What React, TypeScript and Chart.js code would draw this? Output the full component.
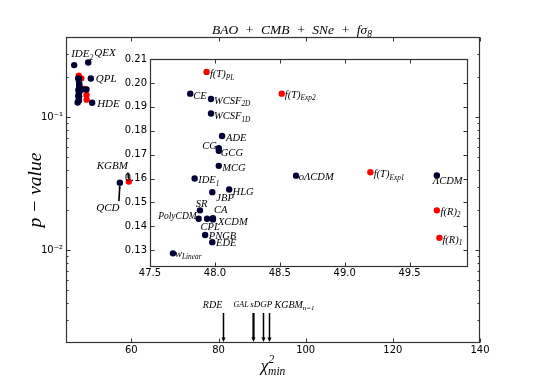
import React, { useEffect, useRef } from "react";
import { Chart, registerables } from "chart.js";
Chart.register(...registerables);

const SERIF = "'Liberation Serif', 'Times New Roman', serif";
const SANS = "'DejaVu Sans', sans-serif";
const BLACK = "#000033";
const RED = "#ff0000";
const FRAME = "#333333";

// Models shown in both panels: chi^2_min and p-value
const blackModels = ["CE", "WCSF_{2D}", "WCSF_{1D}", "ADE", "CG", "GCG", "MCG", "IDE_{1}", "oΛCDM", "HLG", "JBP", "SR", "PolyCDM", "CPL", "CA", "XCDM", "PNGB", "EDE", "w_{Linear}", "ΛCDM"];
const blackChi2 = [47.81, 47.97, 47.97, 48.055, 48.03, 48.03, 48.03, 47.844, 48.625, 48.11, 47.98, 47.885, 47.875, 47.94, 47.985, 47.985, 47.925, 47.98, 47.677, 49.71];
const blackP = [0.1955, 0.1933, 0.1872, 0.1778, 0.1727, 0.1716, 0.1653, 0.16, 0.1612, 0.1554, 0.1543, 0.1467, 0.1432, 0.1432, 0.1434, 0.1429, 0.1364, 0.1334, 0.1287, 0.1613];

const redModels = ["f(T)_{PL}", "f(T)_{Exp2}", "f(T)_{Exp1}", "f(R)_{2}", "f(R)_{1}"];
const redChi2 = [47.936, 48.515, 49.198, 49.71, 49.73];
const redP = [0.2046, 0.1955, 0.1626, 0.1467, 0.1352];

// Models only visible in the main panel
const extraBlackModels = ["IDE_{2}", "QEX", "QPL", "HDE", "QCD"];
const extraBlackChi2 = [46.88, 50.1, 50.7, 51.0, 57.36];
const extraBlackP = [0.246, 0.257, 0.195, 0.128, 0.0321];
const extraRedModels = ["KGBM"];
const extraRedChi2 = [59.42];
const extraRedP = [0.0327];

// Models whose p-value lies below the plotted range (arrows)
const lowModels = ["RDE", "GAL", "sDGP", "KGBM_{n=1}"];
const lowChi2 = [81.0, 87.9, 90.1, 91.5];

// Ticks
const mainXTicks = [60, 80, 100, 120, 140];
const mainYTicks = [0.01, 0.1];
const mainYTickLabels = ["10⁻²", "10⁻¹"];
const mainYMinorTicks = [0.003, 0.004, 0.005, 0.006, 0.007, 0.008, 0.009, 0.02, 0.03, 0.04, 0.05, 0.06, 0.07, 0.08, 0.09, 0.2, 0.3];
const insetXTicks = [47.5, 48.0, 48.5, 49.0, 49.5];
const insetYTicks = [0.13, 0.14, 0.15, 0.16, 0.17, 0.18, 0.19, 0.2, 0.21];

type Spec = { dx: number; dy: number; align: "left" | "right" | "center"; size: number };

const mainLabelSpec: Record<string, Spec> = {
  "IDE_{2}": { dx: -3, dy: -10.5, align: "left", size: 11 },
  QEX: { dx: 6, dy: -9.5, align: "left", size: 11 },
  QPL: { dx: 5, dy: 0.5, align: "left", size: 11 },
  HDE: { dx: 5, dy: 1.5, align: "left", size: 11 },
  QCD: { dx: -23.6, dy: 25, align: "left", size: 11 },
  KGBM: { dx: -1, dy: -15.6, align: "right", size: 11 },
};

const insetLabelSpec: Record<string, Spec> = {
  CE: { dx: 3, dy: 2.5, align: "left", size: 10.5 },
  "WCSF_{2D}": { dx: 3, dy: 2.3, align: "left", size: 10.5 },
  "WCSF_{1D}": { dx: 3, dy: 3, align: "left", size: 10.5 },
  ADE: { dx: 4, dy: 2.4, align: "left", size: 10.5 },
  CG: { dx: -2, dy: -1.5, align: "right", size: 10.5 },
  GCG: { dx: 2, dy: 2, align: "left", size: 10.5 },
  MCG: { dx: 3.4, dy: 2.4, align: "left", size: 10.5 },
  "IDE_{1}": { dx: 3.6, dy: 2, align: "left", size: 10.5 },
  "oΛCDM": { dx: 2.7, dy: 1.7, align: "left", size: 10.5 },
  HLG: { dx: 3.4, dy: 2.4, align: "left", size: 10.5 },
  JBP: { dx: 4, dy: 6, align: "left", size: 10.5 },
  SR: { dx: 1.5, dy: -6.6, align: "center", size: 10.5 },
  PolyCDM: { dx: -2, dy: -2, align: "right", size: 9.5 },
  CPL: { dx: 3, dy: 9, align: "center", size: 10.5 },
  CA: { dx: 1, dy: -8.3, align: "left", size: 10.5 },
  XCDM: { dx: 5, dy: 2.4, align: "left", size: 10.5 },
  PNGB: { dx: 3.7, dy: 1.3, align: "left", size: 10.5 },
  EDE: { dx: 3.7, dy: 1.4, align: "left", size: 10.5 },
  "w_{Linear}": { dx: 2, dy: 0.6, align: "left", size: 10.5 },
  "ΛCDM": { dx: -4, dy: 6, align: "left", size: 10.5 },
  "f(T)_{PL}": { dx: 3.3, dy: 2.6, align: "left", size: 10.5 },
  "f(T)_{Exp2}": { dx: 3, dy: 1.6, align: "left", size: 10.5 },
  "f(T)_{Exp1}": { dx: 3.3, dy: 2.3, align: "left", size: 10.5 },
  "f(R)_{2}": { dx: 3.7, dy: 1.7, align: "left", size: 10.5 },
  "f(R)_{1}": { dx: 3, dy: 2.3, align: "left", size: 10.5 },
};

const lowLabelSpec: Record<string, { dx: number; size: number; lw: number }> = {
  RDE: { dx: -20.7, size: 10, lw: 1.5 },
  GAL: { dx: -20, size: 8, lw: 2.2 },
  sDGP: { dx: -13.3, size: 9, lw: 1.5 },
  "KGBM_{n=1}": { dx: 5, size: 10, lw: 1.5 },
};

type Part = { t: string; k: 0 | 1 | 2 };
function parseRich(s: string): Part[] {
  const out: Part[] = [];
  let i = 0;
  let buf = "";
  while (i < s.length) {
    const c = s[i];
    if ((c === "_" || c === "^") && s[i + 1] === "{") {
      if (buf) { out.push({ t: buf, k: 0 }); buf = ""; }
      const end = s.indexOf("}", i);
      out.push({ t: s.slice(i + 2, end), k: c === "_" ? 1 : 2 });
      i = end + 1;
    } else { buf += c; i++; }
  }
  if (buf) out.push({ t: buf, k: 0 });
  return out;
}

function richWidth(ctx: CanvasRenderingContext2D, s: string, size: number) {
  let w = 0;
  for (const p of parseRich(s)) { ctx.font = `italic ${p.k === 0 ? size : size * 0.7}px ${SERIF}`; w += ctx.measureText(p.t).width; }
  return w;
}

function drawRich(ctx: CanvasRenderingContext2D, s: string, x: number, y: number, size: number, align: "left" | "right" | "center") {
  const parts = parseRich(s);
  const fontFor = (k: number) => `italic ${k === 0 ? size : size * 0.7}px ${SERIF}`;
  const w = richWidth(ctx, s, size);
  let cx = align === "left" ? x : align === "right" ? x - w : x - w / 2;
  ctx.textBaseline = "middle";
  ctx.textAlign = "left";
  ctx.fillStyle = "#000";
  for (const p of parts) {
    ctx.font = fontFor(p.k);
    const dy = p.k === 1 ? size * 0.3 : p.k === 2 ? -size * 0.4 : 0;
    ctx.fillText(p.t, cx, y + dy);
    cx += ctx.measureText(p.t).width;
  }
}

function drawArrow(ctx: CanvasRenderingContext2D, x1: number, y1: number, x2: number, y2: number, lw: number, head: number) {
  const ang = Math.atan2(y2 - y1, x2 - x1);
  ctx.strokeStyle = "#000";
  ctx.fillStyle = "#000";
  ctx.lineWidth = lw;
  ctx.beginPath();
  ctx.moveTo(x1, y1);
  ctx.lineTo(x2 - Math.cos(ang) * head * 0.8, y2 - Math.sin(ang) * head * 0.8);
  ctx.stroke();
  ctx.beginPath();
  ctx.moveTo(x2, y2);
  ctx.lineTo(x2 - Math.cos(ang) * head + Math.sin(ang) * head * 0.45, y2 - Math.sin(ang) * head - Math.cos(ang) * head * 0.45);
  ctx.lineTo(x2 - Math.cos(ang) * head - Math.sin(ang) * head * 0.45, y2 - Math.sin(ang) * head + Math.cos(ang) * head * 0.45);
  ctx.closePath();
  ctx.fill();
}

function drawFrameAndTicks(chart: any, xMajor: number[], xMinor: number[], yMajor: number[], yMinor: number[]) {
  const ctx: CanvasRenderingContext2D = chart.ctx;
  const a = chart.chartArea;
  const xs = chart.scales.x;
  const ys = chart.scales.y;
  const L = Math.round(a.left) + 0.5, R = Math.round(a.right) - 0.5, T = Math.round(a.top) + 0.5, B = Math.round(a.bottom) - 0.5;
  ctx.save();
  ctx.strokeStyle = FRAME;
  ctx.lineWidth = 1;
  ctx.beginPath();
  const seg = (x1: number, y1: number, x2: number, y2: number) => { ctx.moveTo(x1, y1); ctx.lineTo(x2, y2); };
  const xt = (vals: number[], len: number) => vals.forEach((v) => { const p = Math.round(xs.getPixelForValue(v)) + 0.5; seg(p, B, p, B - len); seg(p, T, p, T + len); });
  const yt = (vals: number[], len: number) => vals.forEach((v) => { const p = Math.round(ys.getPixelForValue(v)) + 0.5; seg(L, p, L + len, p); seg(R, p, R - len, p); });
  xt(xMajor, 4); xt(xMinor, 2); yt(yMajor, 4); yt(yMinor, 2);
  ctx.stroke();
  ctx.lineWidth = 1.2;
  ctx.strokeRect(L, T, R - L, B - T);
  ctx.restore();
}

const mainDecor = {
  id: "mainDecor",
  afterDraw(chart: any) {
    const ctx: CanvasRenderingContext2D = chart.ctx;
    const xs = chart.scales.x;
    const ys = chart.scales.y;
    const a = chart.chartArea;
    drawFrameAndTicks(chart, mainXTicks, [], mainYTicks, mainYMinorTicks);
    ctx.save();
    const lab = (names: string[], xv: number[], yv: number[]) => names.forEach((n, i) => {
      const s = mainLabelSpec[n];
      if (!s) return;
      const px = xs.getPixelForValue(xv[i]);
      const py = ys.getPixelForValue(yv[i]);
      drawRich(ctx, n, px + s.dx, py + s.dy, s.size, s.align);
      if (n === "KGBM") drawArrow(ctx, px - 1, py - 9, px, py - 2, 1.6, 3);
      if (n === "QCD") drawArrow(ctx, px - 1, py + 18.4, px, py + 2.5, 1.6, 3);
    });
    lab(extraBlackModels, extraBlackChi2, extraBlackP);
    lab(extraRedModels, extraRedChi2, extraRedP);
    lowModels.forEach((n, i) => {
      const s = lowLabelSpec[n];
      const px = Math.round(xs.getPixelForValue(lowChi2[i])) + 0.5;
      drawArrow(ctx, px, a.bottom - 30, px, a.bottom - 1, s.lw, 4.5);
      drawRich(ctx, n, px + s.dx, a.bottom - 38, s.size, "left");
    });
    // title
    const tokens = ["BAO", "+", "CMB", "+", "SNe", "+", "fσ_{8}"];
    const tsize = 13.5;
    const widths = tokens.map((t) => richWidth(ctx, t, tsize));
    const totalW = 160;
    const gap = (totalW - widths.reduce((s, v) => s + v, 0)) / (tokens.length - 1);
    let tx = 292 - totalW / 2;
    tokens.forEach((t, i) => { drawRich(ctx, t, tx, 30, tsize, "left"); tx += widths[i] + gap; });
    // y axis title
    ctx.save();
    ctx.translate(36, (a.top + a.bottom) / 2);
    ctx.rotate(-Math.PI / 2);
    drawRich(ctx, "p − value", 0, 0, 19.5, "center");
    ctx.restore();
    // x axis title chi^2_min
    const cx = (a.left + a.right) / 2;
    ctx.font = `italic 17px ${SERIF}`;
    const chiW = ctx.measureText("χ").width;
    ctx.font = `italic 11.5px ${SERIF}`;
    const minW = ctx.measureText("min").width;
    const x0 = cx - (chiW + minW) / 2;
    ctx.fillStyle = "#000";
    ctx.textBaseline = "middle";
    ctx.textAlign = "left";
    ctx.font = `italic 17px ${SERIF}`;
    ctx.fillText("χ", x0, 367);
    ctx.font = `italic 11.5px ${SERIF}`;
    ctx.fillText("2", x0 + chiW + 0.5, 360);
    ctx.fillText("min", x0 + chiW, 372);
    ctx.restore();
  },
};

const insetDecor = {
  id: "insetDecor",
  beforeDraw(chart: any) {
    const ctx: CanvasRenderingContext2D = chart.ctx;
    const a = chart.chartArea;
    ctx.save();
    ctx.fillStyle = "#fff";
    ctx.fillRect(a.left, a.top, a.right - a.left, a.bottom - a.top);
    ctx.restore();
  },
  afterDraw(chart: any) {
    const ctx: CanvasRenderingContext2D = chart.ctx;
    const xs = chart.scales.x;
    const ys = chart.scales.y;
    drawFrameAndTicks(chart, insetXTicks, [], insetYTicks, []);
    ctx.save();
    const lab = (names: string[], xv: number[], yv: number[]) => names.forEach((n, i) => {
      const s = insetLabelSpec[n];
      if (!s) return;
      drawRich(ctx, n, xs.getPixelForValue(xv[i]) + s.dx, ys.getPixelForValue(yv[i]) + s.dy, s.size, s.align);
    });
    lab(blackModels, blackChi2, blackP);
    lab(redModels, redChi2, redP);
    ctx.restore();
  },
};

const pts = (xv: number[], yv: number[]) => xv.map((x, i) => ({ x, y: yv[i] }));

export default function App() {
  const mainRef = useRef<HTMLCanvasElement>(null);
  const insetRef = useRef<HTMLCanvasElement>(null);

  useEffect(() => {
    const tickFont = { family: SANS, size: 10 };
    const main = new Chart(mainRef.current as HTMLCanvasElement, {
      type: "scatter",
      data: {
        datasets: [
          { data: [...pts(blackChi2, blackP), ...pts(extraBlackChi2, extraBlackP)], backgroundColor: BLACK, borderWidth: 0, pointRadius: 3.2 },
          { data: [...pts(redChi2, redP), ...pts(extraRedChi2, extraRedP)], backgroundColor: RED, borderWidth: 0, pointRadius: 3.2 },
        ],
      },
      options: {
        responsive: false,
        animation: false,
        devicePixelRatio: 1,
        events: [],
        layout: { padding: { left: 0, top: 37, right: 54, bottom: 0 } },
        plugins: { legend: { display: false }, tooltip: { enabled: false } },
        scales: {
          x: {
            type: "linear", min: 45, max: 140,
            grid: { display: false, drawTicks: false }, border: { display: false },
            ticks: { font: tickFont, color: "#000", padding: 1, maxRotation: 0, autoSkip: false },
            afterBuildTicks: (s: any) => { s.ticks = mainXTicks.map((v) => ({ value: v })); },
            afterFit: (s: any) => { s.height = 39; },
          },
          y: {
            type: "logarithmic", min: 0.002, max: 0.4,
            grid: { display: false, drawTicks: false }, border: { display: false },
            ticks: {
              font: tickFont, color: "#000", padding: 3, autoSkip: false,
              callback: (v: any) => { const i = mainYTicks.findIndex((t) => Math.abs(t - Number(v)) < 1e-9); return i >= 0 ? mainYTickLabels[i] : ""; },
            },
            afterBuildTicks: (s: any) => { s.ticks = mainYTicks.map((v) => ({ value: v })); },
            afterFit: (s: any) => { s.width = 66; },
          },
        },
      },
      plugins: [mainDecor],
    } as any);

    const inset = new Chart(insetRef.current as HTMLCanvasElement, {
      type: "scatter",
      data: {
        datasets: [
          { data: pts(blackChi2, blackP), backgroundColor: BLACK, borderWidth: 0, pointRadius: 3.2 },
          { data: pts(redChi2, redP), backgroundColor: RED, borderWidth: 0, pointRadius: 3.2 },
        ],
      },
      options: {
        responsive: false,
        animation: false,
        devicePixelRatio: 1,
        events: [],
        layout: { padding: { left: 0, top: 6, right: 2, bottom: 0 } },
        plugins: { legend: { display: false }, tooltip: { enabled: false } },
        scales: {
          x: {
            type: "linear", min: 47.5, max: 49.95,
            grid: { display: false, drawTicks: false }, border: { display: false },
            ticks: { font: tickFont, color: "#000", padding: 0, maxRotation: 0, autoSkip: false, callback: (v: any) => Number(v).toFixed(1) },
            afterBuildTicks: (s: any) => { s.ticks = insetXTicks.map((v) => ({ value: v })); },
            afterFit: (s: any) => { s.height = 18; },
          },
          y: {
            type: "linear", min: 0.123, max: 0.21,
            grid: { display: false, drawTicks: false }, border: { display: false },
            ticks: { font: tickFont, color: "#000", padding: 3, autoSkip: false, callback: (v: any) => Number(v).toFixed(2) },
            afterBuildTicks: (s: any) => { s.ticks = insetYTicks.map((v) => ({ value: v })); },
            afterFit: (s: any) => { s.width = 40; },
          },
        },
      },
      plugins: [insetDecor],
    } as any);

    return () => { main.destroy(); inset.destroy(); };
  }, []);

  return (
    <div style={{ position: "absolute", left: 0, top: 0, width: 534, height: 382, background: "#fff" }}>
      <canvas ref={mainRef} width={534} height={382} style={{ position: "absolute", left: 0, top: 0, width: 534, height: 382 }} />
      <canvas ref={insetRef} width={362} height={235} style={{ position: "absolute", left: 110, top: 50, width: 362, height: 235 }} />
    </div>
  );
}
